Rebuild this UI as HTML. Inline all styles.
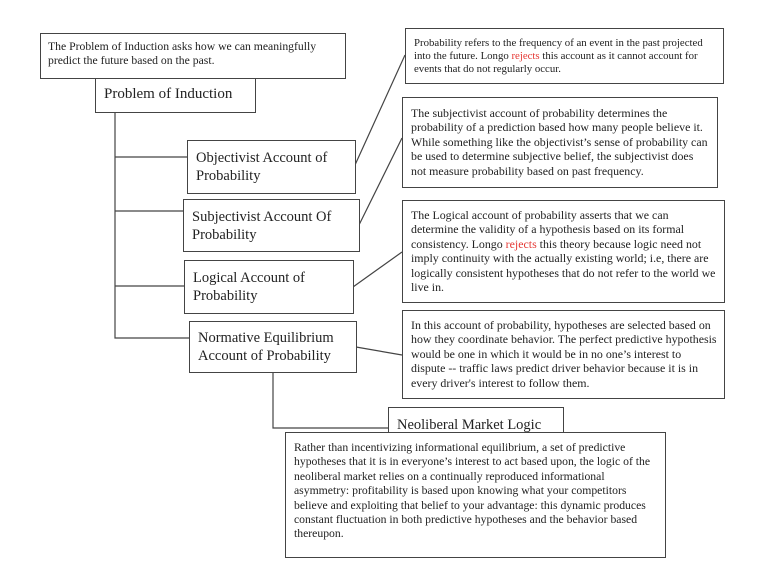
<!DOCTYPE html>
<html><head><meta charset="utf-8"><style>
body{margin:0;width:779px;height:566px;background:#fff;position:relative;overflow:hidden;font-family:"Liberation Serif",serif;color:#222}
.b{position:absolute;box-sizing:border-box;border:1.3px solid #444;background:#fff;white-space:nowrap}
.r{color:#e53935}
svg{position:absolute;left:0;top:0}
</style></head><body>
<svg width="779" height="566"><g stroke="#444" stroke-width="1.2" fill="none">
<path d="M115 112V338H189M115 157H187M115 211H183M115 286H184"/>
<path d="M273 372V428H388"/>
<path d="M355 165L405 55M359 225L402 138M353 287L402 252M356 347L402 355"/>
</g></svg>
<div class="b" style="left:40px;top:33px;width:306px;height:46px;font-size:11.7px;line-height:14px;padding:6px 0 0 7px">The Problem of Induction asks how we can meaningfully<br>predict the future based on the past.</div>
<div class="b" style="left:95px;top:78px;width:161px;height:35px;font-size:15px;padding:7px 0 0 8px">Problem of Induction</div>
<div class="b" style="left:187px;top:140px;width:169px;height:54px;font-size:14.5px;line-height:18px;padding:8px 0 0 8px">Objectivist Account of<br>Probability</div>
<div class="b" style="left:183px;top:199px;width:177px;height:53px;font-size:14.5px;line-height:18px;padding:8px 0 0 8px">Subjectivist Account Of<br>Probability</div>
<div class="b" style="left:184px;top:260px;width:170px;height:54px;font-size:14.5px;line-height:18px;padding:8px 0 0 8px">Logical Account of<br>Probability</div>
<div class="b" style="left:189px;top:321px;width:168px;height:52px;font-size:14.5px;line-height:18px;padding:7px 0 0 8px">Normative Equilibrium<br>Account of Probability</div>
<div class="b" style="left:388px;top:407px;width:176px;height:35px;font-size:14.5px;padding:9px 0 0 8px">Neoliberal Market Logic</div>
<div class="b" style="left:405px;top:28px;width:319px;height:56px;font-size:10.8px;line-height:13px;padding:8px 0 0 8px">Probability refers to the frequency of an event in the past projected<br>into the future. Longo <span class="r">rejects</span> this account as it cannot account for<br>events that do not regularly occur.</div>
<div class="b" style="left:402px;top:97px;width:316px;height:91px;font-size:11.9px;line-height:14.4px;padding:8px 0 0 8px">The subjectivist account of probability determines the<br>probability of a prediction based how many people believe it.<br>While something like the objectivist’s sense of probability can<br>be used to determine subjective belief, the subjectivist does<br>not measure probability based on past frequency.</div>
<div class="b" style="left:402px;top:200px;width:323px;height:103px;font-size:11.9px;line-height:14.4px;padding:7px 0 0 8px">The Logical account of probability asserts that we can<br>determine the validity of a hypothesis based on its formal<br>consistency. Longo <span class="r">rejects</span> this theory because logic need not<br>imply continuity with the actually existing world; i.e, there are<br>logically consistent hypotheses that do not refer to the world we<br>live in.</div>
<div class="b" style="left:402px;top:310px;width:323px;height:89px;font-size:11.9px;line-height:14.4px;padding:7px 0 0 8px">In this account of probability, hypotheses are selected based on<br>how they coordinate behavior. The perfect predictive hypothesis<br>would be one in which it would be in no one’s interest to<br>dispute -- traffic laws predict driver behavior because it is in<br>every driver's interest to follow them.</div>
<div class="b" style="left:285px;top:432px;width:381px;height:126px;font-size:11.7px;line-height:14.4px;padding:8px 0 0 8px">Rather than incentivizing informational equilibrium, a set of predictive<br>hypotheses that it is in everyone’s interest to act based upon, the logic of the<br>neoliberal market relies on a continually reproduced informational<br>asymmetry: profitability is based upon knowing what your competitors<br>believe and exploiting that belief to your advantage: this dynamic produces<br>constant fluctuation in both predictive hypotheses and the behavior based<br>thereupon.</div>
</body></html>
